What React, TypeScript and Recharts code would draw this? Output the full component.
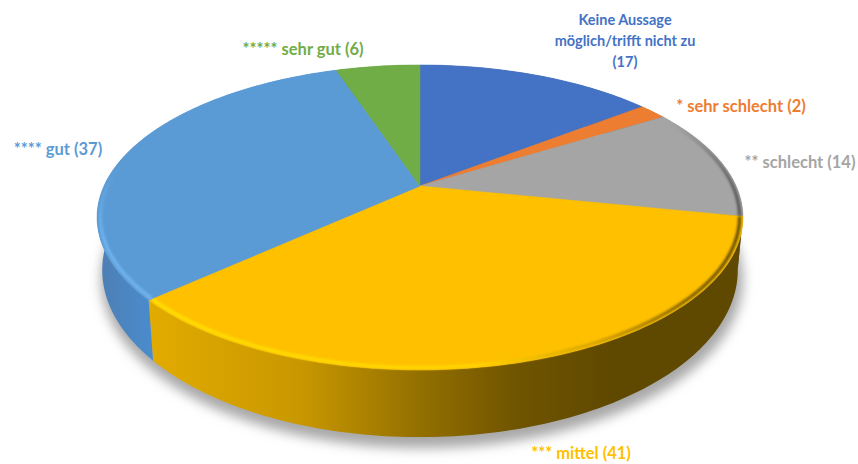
import React from 'react';
import { PieChart, Pie, Cell } from 'recharts';

// Ratings, clockwise from twelve o'clock
const categories = [
  'Keine Aussage möglich/trifft nicht zu',
  '* sehr schlecht',
  '** schlecht',
  '*** mittel',
  '**** gut',
  '***** sehr gut',
];
const counts = [17, 2, 14, 41, 37, 6];
const sliceColors = ['#4472c4', '#ed7d31', '#a5a5a5', '#ffc000', '#5b9bd5', '#70ad47'];
const wallFills = ['#2f5597', '#b05a1f', '#5f5f5f', 'url(#wallMittel)', 'url(#wallGut)', '#507c32'];
const rimStrokes = ['none', 'none', 'url(#rimSchlecht)', 'url(#rimMittel)', 'url(#rimGut)', 'none'];

const chartData = categories.map((name, i) => ({ name, value: counts[i] }));

const WIDTH = 858;
const HEIGHT = 464;
const CX = 420;
const CY = 186;
const RADIUS = 316;

// The disc is seen in perspective: the far side is squeezed, the near side stretched
const TILT = 0.462;
const PERSPECTIVE = 0.206;
const DEPTH = 49.6;
const BASE_SCALE = 0.984;
const BASE_TILT = 1.096;

type Pt = [number, number];

function project(cx: number, cy: number, r: number, deg: number, t = 1, base = false): Pt {
  const a = (deg * Math.PI) / 180;
  const px = t * Math.cos(a);
  const py = t * Math.sin(a);
  const w = 1 + PERSPECTIVE * py;
  const sx = base ? BASE_SCALE : 1;
  const yShift = base ? DEPTH : 0;
  const yScale = base ? BASE_TILT : 1;
  return [cx + (r * sx * px) / w, cy + yShift - (r * TILT * yScale * py) / w];
}

function arcPoints(props: any, t = 1, base = false): Pt[] {
  const { cx, cy, outerRadius, startAngle, endAngle } = props;
  const steps = Math.max(2, Math.ceil(Math.abs(endAngle - startAngle)));
  const pts: Pt[] = [];
  for (let i = 0; i <= steps; i++) {
    pts.push(project(cx, cy, outerRadius, startAngle + ((endAngle - startAngle) * i) / steps, t, base));
  }
  return pts;
}

const toPath = (pts: Pt[]) => pts.map(([x, y], i) => `${i ? 'L' : 'M'}${x.toFixed(2)} ${y.toFixed(2)}`).join(' ');

function WallSector(props: any) {
  const outline = [...arcPoints(props), ...arcPoints(props, 1, true).reverse()];
  return <path d={`${toPath(outline)} Z`} fill={wallFills[props.index]} />;
}

function TopSector(props: any) {
  const { cx, cy, fill, index } = props;
  const rim = rimStrokes[index];
  return (
    <g>
      <path d={`M${cx} ${cy} ${toPath(arcPoints(props)).replace('M', 'L')} Z`} fill={fill} stroke={fill} strokeWidth={0.5} />
      {rim !== 'none' && (
        <path d={toPath(arcPoints(props, 0.99))} fill="none" stroke={rim} strokeWidth={3.5} filter="url(#soften)" />
      )}
    </g>
  );
}

// Text anchors around the disc, same order as the categories
const labelAnchors: Pt[] = [
  [625, 25],
  [741, 112],
  [800, 168],
  [581, 459],
  [58, 155],
  [303, 55],
];

const categoryLines = [
  ['Keine Aussage', 'möglich/trifft nicht zu'],
  ['* sehr schlecht'],
  ['** schlecht'],
  ['*** mittel'],
  ['**** gut'],
  ['***** sehr gut'],
];

function SliceLabel(props: any) {
  const { index, value } = props;
  const [x, y] = labelAnchors[index];
  const lines = categoryLines[index];
  const rows = lines.length > 1 ? [...lines, `(${value})`] : [`${lines[0]} (${value})`];
  return (
    <text
      x={x}
      y={y}
      textAnchor="middle"
      fill={sliceColors[index]}
      fontFamily="Lato"
      fontWeight={700}
      fontSize={lines.length > 1 ? 14.5 : 16.5}
    >
      {rows.map((row, i) => (
        <tspan key={row} x={x} dy={i ? 21 : 0}>
          {row}
        </tspan>
      ))}
    </text>
  );
}

const shadowPoints = (() => {
  const pts: Pt[] = [];
  for (let deg = 0; deg < 360; deg += 2) pts.push(project(CX + 2, CY + 9, RADIUS * 1.01, deg, 1, true));
  return pts;
})();

export default function App() {
  return (
    <div style={{ position: 'absolute', left: 0, top: 0, width: WIDTH, height: HEIGHT, background: '#fff' }}>
      <PieChart width={WIDTH} height={HEIGHT} margin={{ top: 0, right: 0, bottom: 0, left: 0 }}>
        <defs>
          <linearGradient id="wallMittel" gradientUnits="userSpaceOnUse" x1={150} y1={0} x2={745} y2={0}>
            <stop offset="0" stopColor="#e2ab00" />
            <stop offset="0.25" stopColor="#c99800" />
            <stop offset="0.45" stopColor="#947000" />
            <stop offset="0.62" stopColor="#6f5400" />
            <stop offset="0.78" stopColor="#5f4800" />
            <stop offset="1" stopColor="#5f4800" />
          </linearGradient>
          <linearGradient id="wallGut" gradientUnits="userSpaceOnUse" x1={98} y1={0} x2={158} y2={0}>
            <stop offset="0" stopColor="#4d7fb3" />
            <stop offset="1" stopColor="#4a8dd0" />
          </linearGradient>
          <linearGradient id="rimMittel" gradientUnits="userSpaceOnUse" x1={150} y1={0} x2={745} y2={0}>
            <stop offset="0" stopColor="#ffdf00" />
            <stop offset="0.55" stopColor="#ffd400" />
            <stop offset="0.75" stopColor="#d8a400" />
            <stop offset="0.9" stopColor="#8a6800" />
            <stop offset="1" stopColor="#6a5000" />
          </linearGradient>
          <linearGradient id="rimGut" gradientUnits="userSpaceOnUse" x1={0} y1={170} x2={0} y2={240}>
            <stop offset="0" stopColor="#6fb2ee" stopOpacity={0} />
            <stop offset="1" stopColor="#6fb2ee" />
          </linearGradient>
          <linearGradient id="rimSchlecht" gradientUnits="userSpaceOnUse" x1={670} y1={0} x2={743} y2={0}>
            <stop offset="0" stopColor="#777" stopOpacity={0} />
            <stop offset="1" stopColor="#555" />
          </linearGradient>
          <filter id="soften" x="-5%" y="-5%" width="110%" height="110%">
            <feGaussianBlur stdDeviation={0.8} />
          </filter>
          <filter id="groundShadow" x="-10%" y="-10%" width="120%" height="120%">
            <feGaussianBlur stdDeviation={6} />
          </filter>
        </defs>
        <path d={`${toPath(shadowPoints)} Z`} fill="#a8a8a8" filter="url(#groundShadow)" />
        <Pie
          data={chartData}
          dataKey="value"
          nameKey="name"
          cx={CX}
          cy={CY}
          outerRadius={RADIUS}
          startAngle={90}
          endAngle={-270}
          paddingAngle={0}
          stroke="none"
          shape={WallSector}
          isAnimationActive={false}
          label={false}
          labelLine={false}
        />
        <Pie
          data={chartData}
          dataKey="value"
          nameKey="name"
          cx={CX}
          cy={CY}
          outerRadius={RADIUS}
          startAngle={90}
          endAngle={-270}
          paddingAngle={0}
          stroke="none"
          shape={TopSector}
          isAnimationActive={false}
          label={SliceLabel}
          labelLine={false}
        >
          {chartData.map((entry, i) => (
            <Cell key={entry.name} fill={sliceColors[i]} />
          ))}
        </Pie>
      </PieChart>
    </div>
  );
}
